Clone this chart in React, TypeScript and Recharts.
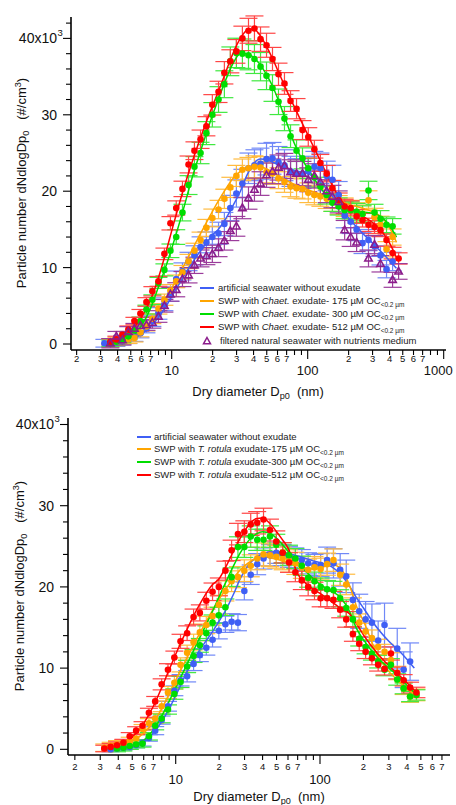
import React from "react";
import { ComposedChart, Scatter, Line, XAxis, YAxis, ErrorBar } from "recharts";

const FONT = "'Liberation Sans', Arial, Helvetica, sans-serif";

// Particle diameters of the measured points (nm)
const diameters = [
  3.2, 3.54, 3.92, 4.34, 4.8, 5.32, 5.89, 6.52, 7.21, 7.99,
  8.84, 9.79, 10.8, 12.0, 13.3, 14.7, 16.3, 18.0, 19.9, 22.1,
  24.4, 27.0, 29.9, 33.1, 36.7, 40.6, 45.0, 49.8, 55.1, 61.0,
  67.5, 74.8, 82.8, 91.6, 101, 112, 124, 138, 152, 169,
  187, 207, 229, 253, 280, 310, 343, 380, 421, 466,
];

// ---- Top panel (Chaet. exudate), values in 10^3 #/cm3 ----
const topBlue = [
  0.1, 0.1, 0.2, 0.4, 0.6, 0.9, 1.4, 2.1, 3.0, 4.0,
  5.2, 6.5, 8.5, 9.5, 10.8, 11.6, 12.7, 13.3, 14.0, 14.5,
  15.7, 17.8, 19.7, 21.0, 23.0, 23.4, 23.6, 24.2, 24.3, 23.8,
  23.4, 22.6, 22.3, 22.3, 22.6, 23.2, 23.0, 22.0, 21.5, 19.5,
  16.8, 16.0, 15.0, 13.2, 13.6, 12.8, 11.6, 9.8, 10.8, null,
];
const topOrange = [
  null, 0.1, 0.3, 0.5, 0.6, 0.8, 1.5, 2.3, 3.3, 4.6,
  5.8, 7.0, 8.2, 9.4, 10.8, 12.2, 13.6, 15.2, 16.5, 17.6,
  19.0, 20.5, 22.0, 22.8, 23.0, 23.2, 23.1, 22.5, 22.3, 21.7,
  21.2, 20.6, 20.4, 20.3, 19.8, 19.5, 19.3, 19.0, 18.6, 18.2,
  17.9, 17.6, 17.3, 17.0, 18.8, 16.6, 15.6, 12.4, 14.0, null,
];
const topGreen = [
  null, 0.1, 0.3, 0.6, 1.0, 1.8, 3.0, 4.5, 5.8, 8.0,
  9.7, 12.2, 14.0, 17.2, 20.8, 23.2, 25.0, 27.6, 30.0, 32.0,
  34.0, 37.0, 38.1, 38.0, 37.8, 37.3, 36.3, 35.1, 33.5, 31.7,
  29.5, 27.2, 25.3, 24.3, 23.0, 21.8, 20.6, 19.5, 18.5, 18.0,
  17.5, 17.5, 17.3, 17.0, 20.1, 17.2, 16.4, 15.6, 15.4, null,
];
const topRed = [
  null, 0.3, 0.6, 1.2, 1.9, 3.0, 4.0, 5.5, 6.9, 8.2,
  11.8, 15.8, 17.8, 20.3, 23.5, 25.3, 26.8, 28.5, 31.3, 33.0,
  35.5, 37.0, 38.3, 40.0, 41.0, 41.3, 39.9, 39.1, 37.3, 35.3,
  34.1, 31.8, 30.8, 28.0, 27.1, 25.5, 23.7, 22.3, 20.4, 18.8,
  18.0, 17.8, 16.7, 16.2, 15.6, 15.3, 14.9, 13.6, 11.9, 11.2,
];
const topPurple = [
  null, 0.1, 1.0, 0.5, 1.6, 2.0, 2.4, 2.5, 2.8, 3.6,
  5.0, 6.5, 7.1, 8.5, 9.0, 10.3, 11.2, 11.5, 11.8, 12.6,
  13.5, 14.8, 15.4, 17.8, 19.1, 20.2, 21.0, 22.1, 22.6, 23.1,
  23.3, 22.5, 22.3, 22.3, 21.5, 22.0, 21.2, 20.0, 19.3, 18.6,
  14.9, 14.0, 13.3, null, 11.2, 13.0, 10.5, null, 8.4, 9.5,
];

// ---- Bottom panel (T. rotula exudate) ----
const botBlue = [
  null, 0.0, 0.1, 0.2, 0.3, 0.5, 0.8, 1.4, 2.3, 3.6,
  5.3, 7.2, 8.5, 9.0, 10.5, 11.6, 12.5, 13.5, 14.6, 15.4,
  15.7, 15.6, 19.5, 21.5, 22.8, 23.5, 23.9, 24.2, 23.9, 23.7,
  23.5, 23.3, 22.9, 22.7, 22.7, 23.3, 22.9, 22.1, 21.3, 18.4,
  17.0, 16.0, 15.6, 13.4, 15.3, null, 12.4, 9.8, 10.8, null,
];
const botBlueErr = [
  0.3, 0.3, 0.3, 0.3, 0.3, 0.3, 0.4, 0.4, 0.5, 0.5,
  0.6, 0.6, 0.7, 0.7, 0.8, 0.8, 0.9, 0.9, 1.0, 1.0,
  1.0, 1.0, 1.1, 1.2, 1.3, 1.3, 1.3, 1.3, 1.3, 1.3,
  1.3, 1.3, 1.3, 1.3, 1.4, 1.6, 1.8, 2.0, 2.0, 2.1,
  2.1, 2.2, 2.3, 2.4, 2.7, 2.5, 2.5, 2.2, 2.3, 2.3,
];
const botOrange = [
  0.2, 0.4, 0.6, 0.7, 1.0, 1.3, 2.5, 3.2, 3.8, 5.3,
  7.0, 8.2, 10.4, 11.9, 13.2, 14.4, 15.3, 16.4, 17.8, 19.5,
  20.7, 21.2, 22.0, 22.6, 23.5, 24.0, 23.9, 23.7, 23.5, 23.2,
  22.9, 22.4, 22.1, 22.4, 22.2, 22.8, 23.3, 21.5, 20.3, 17.5,
  15.6, 14.5, 13.7, 12.6, 12.0, 11.0, 9.4, 7.5, 6.5, 6.7,
];
const botGreen = [
  null, null, 0.1, 0.2, 0.4, 0.6, 0.7, 1.6, 2.9, 3.8,
  4.9, 6.8, 8.3, 10.2, 11.5, 12.8, 14.3, 15.6, 16.5, 17.5,
  21.2, 24.9, 24.9, 26.2, 25.8, 25.8, 26.2, 25.2, 24.2, 23.9,
  23.5, 22.6, 21.1, 20.7, 20.0, 19.7, 19.6, 18.6, 17.4, 16.0,
  13.6, 12.6, 11.8, 10.8, 9.8, 10.4, 8.6, 7.5, 6.5, 6.7,
];
const botRed = [
  0.1, 0.3, 0.5, 0.8, 1.6, 2.3, 2.9, 4.5, 5.9, 8.0,
  9.8, 11.3, 13.3, 14.3, 16.3, 16.8, 18.3, 19.4, 20.0, 22.0,
  24.5, 26.5, 26.8, 27.7, 27.9, 28.3, 27.0, 25.6, 24.2, 23.0,
  21.8, 20.8, 20.0, 19.5, 18.6, 18.6, 18.4, 17.2, 16.0, 14.2,
  13.0, 12.0, 11.2, 10.4, 9.9, 11.8, 9.4, 8.5, 7.6, 7.0,
];

// ---- Fitted curves ----
const fitDiameters = [
  3.3, 4, 5, 6, 7, 8, 9, 10, 12, 14, 16, 18, 20, 22, 25, 28, 32, 36, 40,
  45, 50, 55, 60, 70, 80, 90, 100, 120, 140, 160, 180, 200, 250, 300, 350, 400, 450,
];
const topFitBlue = [
  0.0, 0.2, 0.6, 1.3, 2.3, 3.5, 4.8, 6.2, 8.6, 10.5, 12.0, 13.2, 14.3, 15.0, 16.4, 18.0, 20.0, 22.2, 23.6,
  24.2, 24.1, 23.8, 23.5, 23.0, 22.7, 22.5, 22.3, 21.4, 20.2, 18.8, 17.5, 16.5, 14.6, 13.2, 12.0, 10.9, 9.9,
];
const topFitOrange = [
  0.0, 0.2, 0.6, 1.5, 2.8, 4.4, 5.9, 7.3, 9.9, 12.2, 14.2, 15.9, 17.4, 18.7, 20.3, 21.6, 22.6, 23.1, 23.3,
  23.2, 22.9, 22.5, 22.1, 21.4, 20.9, 20.5, 20.2, 19.7, 19.3, 18.9, 18.6, 18.3, 17.8, 17.3, 16.6, 15.2, 13.3,
];
const topFitGreen = [
  0.0, 0.2, 0.8, 2.4, 4.7, 7.5, 10.0, 12.5, 17.2, 21.5, 24.8, 27.6, 30.0, 32.0, 34.6, 36.6, 38.0, 38.0, 37.5,
  36.5, 35.2, 33.8, 32.2, 29.0, 26.2, 24.3, 23.0, 20.8, 19.3, 18.3, 17.8, 17.5, 17.3, 17.1, 16.6, 15.5, 14.0,
];
const topFitRed = [
  0.1, 0.6, 1.7, 3.5, 5.8, 8.7, 11.8, 14.8, 19.8, 23.6, 26.6, 29.1, 31.2, 33.0, 35.6, 37.9, 40.0, 41.1, 41.2,
  40.3, 38.9, 37.4, 35.9, 33.2, 31.0, 29.1, 27.4, 24.5, 22.0, 20.0, 18.6, 17.8, 16.8, 15.9, 14.8, 13.2, 11.3,
];
const botFitBlue = [
  0.0, 0.1, 0.3, 0.9, 2.0, 3.4, 5.0, 6.6, 9.6, 11.7, 13.2, 14.5, 15.8, 17.0, 19.0, 21.0, 22.7, 23.6, 24.1,
  24.3, 24.3, 24.2, 24.1, 23.8, 23.5, 23.2, 23.0, 22.5, 21.5, 20.1, 18.6, 17.4, 14.9, 13.3, 12.2, 11.1, 10.0,
];
const botFitOrange = [
  0.2, 0.5, 1.0, 2.0, 3.3, 5.0, 6.8, 8.5, 11.3, 13.6, 15.5, 17.1, 18.5, 19.6, 21.0, 22.1, 23.0, 23.5, 23.7,
  23.6, 23.4, 23.2, 23.0, 22.6, 22.3, 22.2, 22.3, 22.8, 22.2, 20.2, 17.5, 15.8, 11.6, 9.6, 8.4, 7.5, 6.8,
];
const botFitGreen = [
  0.0, 0.1, 0.4, 1.1, 2.4, 4.1, 5.9, 7.6, 10.5, 13.0, 15.1, 17.0, 18.8, 20.4, 22.5, 24.2, 25.7, 26.5, 26.8,
  26.6, 26.0, 25.2, 24.4, 23.0, 21.9, 21.0, 20.3, 19.5, 18.6, 17.0, 14.8, 13.5, 11.3, 10.0, 9.0, 7.9, 7.0,
];
const botFitRed = [
  0.1, 0.5, 1.5, 3.2, 5.3, 7.6, 9.8, 11.7, 14.8, 17.2, 19.0, 20.3, 21.0, 22.3, 24.3, 26.0, 27.6, 28.4, 28.5,
  27.8, 26.8, 25.8, 24.8, 21.6, 20.4, 19.7, 19.2, 18.2, 17.3, 16.7, 15.4, 14.1, 11.8, 10.3, 9.2, 8.2, 7.3,
];

// ---- Ticks ----
const xTicksTop = [2, 3, 4, 5, 6, 7, 8, 9, 10, 20, 30, 40, 50, 60, 70, 80, 90, 100, 200, 300, 400, 500, 600, 700, 800, 900, 1000];
const xTicksBottom = [2, 3, 4, 5, 6, 7, 8, 9, 10, 20, 30, 40, 50, 60, 70, 80, 90, 100, 200, 300, 400, 500, 600, 700];
const xMajorTicks = [10, 100, 1000];
const xTickLabels: Record<number, string> = {
  2: "2", 3: "3", 4: "4", 5: "5", 6: "6", 7: "7", 10: "10",
  20: "2", 30: "3", 40: "4", 50: "5", 60: "6", 70: "7", 100: "100",
  200: "2", 300: "3", 400: "4", 500: "5", 600: "6", 700: "7", 1000: "1000",
};
const yTicksTop = [0, 2, 4, 6, 8, 10, 12, 14, 16, 18, 20, 22, 24, 26, 28, 30, 32, 34, 36, 38, 40, 42];
const yTicksBottom = [0, 2, 4, 6, 8, 10, 12, 14, 16, 18, 20, 22, 24, 26, 28, 30, 32, 34, 36, 38, 40];
const yTickLabels: Record<number, string> = { 0: "0", 10: "10", 20: "20", 30: "30", 40: "40x10" };

const COLORS = {
  blue: "#3F5FF5",
  orange: "#FFA500",
  green: "#00DD00",
  red: "#FF0000",
  purple: "#8B1C8B",
};
const ERR_COLORS = {
  blue: "#7088F7",
  orange: "#FFBB40",
  green: "#40E840",
  red: "#FF4545",
  purple: "#9B3C9B",
};

type Pt = { x: number; y: number; e: number };

function buildPoints(vals: (number | null)[], base: number, rel: number, errs?: number[]): Pt[] {
  const out: Pt[] = [];
  vals.forEach((v, i) => {
    if (v != null) out.push({ x: diameters[i], y: v, e: errs ? errs[i] : base + rel * v });
  });
  return out;
}
function buildFit(vals: number[]) {
  return fitDiameters.map((d, i) => ({ x: d, y: vals[i] }));
}

type SeriesCfg = {
  key: string;
  color: string;
  errColor: string;
  points: Pt[];
  fit?: { x: number; y: number }[];
  shape: "circle" | "triangle";
};

const circleShape = (color: string) => (p: any) =>
  p.cx == null ? <g /> : <circle cx={p.cx} cy={p.cy} r={3.3} fill={color} />;
const triShape = (color: string) => (p: any) =>
  p.cx == null ? (
    <g />
  ) : (
    <path
      d={`M${p.cx},${p.cy - 4} L${p.cx + 3.7},${p.cy + 2.6} L${p.cx - 3.7},${p.cy + 2.6} Z`}
      fill="none"
      stroke={color}
      strokeWidth={1.6}
    />
  );

type PanelCfg = {
  height: number;
  margin: { top: number; right: number; left: number; bottom: number };
  yAxisWidth: number;
  xAxisHeight: number;
  xDomain: [number, number];
  yDomain: [number, number];
  xTicks: number[];
  yTicks: number[];
  minorDy: number;
  majorDy: number;
  series: SeriesCfg[];
};

function xTick(side: "bottom" | "top", minorDy: number, majorDy: number) {
  return (props: any) => {
    const { x, y, payload } = props;
    const v = Number(payload.value);
    const major = xMajorTicks.includes(v);
    const len = major ? 9 : 5;
    const dir = side === "bottom" ? 1 : -1;
    const label = xTickLabels[v];
    const atEdge = v === 1000;
    return (
      <g>
        <line x1={x} x2={x} y1={y} y2={y + dir * len} stroke="#000" strokeWidth={1.1} />
        {side === "bottom" && label ? (
          <text
            x={atEdge ? x + 9 : x}
            y={y + (major ? majorDy : minorDy)}
            textAnchor={atEdge ? "end" : "middle"}
            dominantBaseline="central"
            fontFamily={FONT}
            fontSize={major ? 13 : 9.5}
            fill="#111"
          >
            {label}
          </text>
        ) : null}
      </g>
    );
  };
}

function yTick(side: "left" | "right") {
  return (props: any) => {
    const { x, y, payload } = props;
    const v = Number(payload.value);
    const major = v % 10 === 0;
    const len = major ? 8 : 5;
    const dir = side === "left" ? -1 : 1;
    const label = yTickLabels[v];
    return (
      <g>
        <line x1={x} x2={x + dir * len} y1={y} y2={y} stroke="#000" strokeWidth={1.1} />
        {side === "left" && label ? (
          <>
            <text
              x={x - 14}
              y={y}
              textAnchor="end"
              dominantBaseline="central"
              fontFamily={FONT}
              fontSize={14}
              fill="#111"
            >
              {label}
            </text>
            {v === 40 ? (
              <text x={x - 13.5} y={y - 6} textAnchor="start" dominantBaseline="central" fontFamily={FONT} fontSize={9.5} fill="#111">
                3
              </text>
            ) : null}
          </>
        ) : null}
      </g>
    );
  };
}

const axisLineStyle = { stroke: "#000", strokeWidth: 1.6 };

function Panel({ cfg }: { cfg: PanelCfg }) {
  return (
    <ComposedChart width={456} height={cfg.height} margin={cfg.margin}>
      <XAxis
        xAxisId="b"
        dataKey="x"
        type="number"
        scale="log"
        domain={cfg.xDomain}
        allowDataOverflow
        ticks={cfg.xTicks}
        interval={0}
        tickLine={false}
        tickSize={0}
        tickMargin={0}
        height={cfg.xAxisHeight}
        axisLine={axisLineStyle}
        tick={xTick("bottom", cfg.minorDy, cfg.majorDy)}
      />
      <XAxis
        xAxisId="t"
        orientation="top"
        dataKey="x"
        type="number"
        scale="log"
        domain={cfg.xDomain}
        allowDataOverflow
        ticks={cfg.xTicks}
        interval={0}
        tickLine={false}
        tickSize={0}
        tickMargin={0}
        height={0}
        axisLine={axisLineStyle}
        tick={xTick("top", 0, 0)}
      />
      <YAxis
        yAxisId="l"
        dataKey="y"
        type="number"
        domain={cfg.yDomain}
        allowDataOverflow
        ticks={cfg.yTicks}
        interval={0}
        tickLine={false}
        tickSize={0}
        tickMargin={0}
        width={cfg.yAxisWidth}
        axisLine={axisLineStyle}
        tick={yTick("left")}
      />
      <YAxis
        yAxisId="r"
        orientation="right"
        dataKey="y"
        type="number"
        domain={cfg.yDomain}
        allowDataOverflow
        ticks={cfg.yTicks}
        interval={0}
        tickLine={false}
        tickSize={0}
        tickMargin={0}
        width={0}
        axisLine={axisLineStyle}
        tick={yTick("right")}
      />
      {cfg.series.map((s) => (
        <Scatter
          key={s.key + "-pts"}
          name={s.key}
          data={s.points}
          xAxisId="b"
          yAxisId="l"
          dataKey="y"
          isAnimationActive={false}
          shape={s.shape === "circle" ? circleShape(s.color) : triShape(s.color)}
        >
          <ErrorBar
            dataKey="e"
            direction="y"
            width={9}
            stroke={s.errColor}
            strokeWidth={1.2}
            isAnimationActive={false}
          />
        </Scatter>
      ))}
      {cfg.series
        .filter((s) => s.fit)
        .map((s) => (
          <Line
            key={s.key + "-fit"}
            data={s.fit}
            xAxisId="b"
            yAxisId="l"
            dataKey="y"
            type="monotone"
            stroke={s.color}
            strokeWidth={1.5}
            dot={false}
            activeDot={false}
            isAnimationActive={false}
          />
        ))}
    </ComposedChart>
  );
}

const topPanel: PanelCfg = {
  height: 400,
  margin: { top: 17, right: 10, left: 0, bottom: 0 },
  yAxisWidth: 71,
  xAxisHeight: 50,
  xDomain: [1.818, 1040],
  yDomain: [-0.785, 42.8],
  xTicks: xTicksTop,
  yTicks: yTicksTop,
  minorDy: 8,
  majorDy: 20,
  series: [
    { key: "blue", color: COLORS.blue, errColor: ERR_COLORS.blue, points: buildPoints(topBlue, 0.5, 0.065), fit: buildFit(topFitBlue), shape: "circle" },
    { key: "orange", color: COLORS.orange, errColor: ERR_COLORS.orange, points: buildPoints(topOrange, 0.5, 0.04), fit: buildFit(topFitOrange), shape: "circle" },
    { key: "green", color: COLORS.green, errColor: ERR_COLORS.green, points: buildPoints(topGreen, 0.4, 0.04), fit: buildFit(topFitGreen), shape: "circle" },
    { key: "red", color: COLORS.red, errColor: ERR_COLORS.red, points: buildPoints(topRed, 0.4, 0.03), fit: buildFit(topFitRed), shape: "circle" },
    { key: "purple", color: COLORS.purple, errColor: ERR_COLORS.purple, points: buildPoints(topPurple, 0.6, 0.045), shape: "triangle" },
  ],
};

const bottomPanel: PanelCfg = {
  height: 405,
  margin: { top: 18, right: 6, left: 0, bottom: 0 },
  yAxisWidth: 68,
  xAxisHeight: 50,
  xDomain: [1.793, 796],
  yDomain: [-0.7, 40.8],
  xTicks: xTicksBottom,
  yTicks: yTicksBottom,
  minorDy: 11,
  majorDy: 24,
  series: [
    { key: "blue", color: COLORS.blue, errColor: ERR_COLORS.blue, points: buildPoints(botBlue, 0, 0, botBlueErr), fit: buildFit(botFitBlue), shape: "circle" },
    { key: "orange", color: COLORS.orange, errColor: ERR_COLORS.orange, points: buildPoints(botOrange, 0.45, 0.04), fit: buildFit(botFitOrange), shape: "circle" },
    { key: "green", color: COLORS.green, errColor: ERR_COLORS.green, points: buildPoints(botGreen, 0.4, 0.035), fit: buildFit(botFitGreen), shape: "circle" },
    { key: "red", color: COLORS.red, errColor: ERR_COLORS.red, points: buildPoints(botRed, 0.4, 0.035), fit: buildFit(botFitRed), shape: "circle" },
  ],
};

const subStyle: React.CSSProperties = { fontSize: "0.7em", verticalAlign: "-0.3em", lineHeight: 0 };
const supStyle: React.CSSProperties = { fontSize: "0.7em", verticalAlign: "0.5em", lineHeight: 0 };
const legSub: React.CSSProperties = { fontSize: 6.5, verticalAlign: "-3px", lineHeight: 0 };

function YTitle({ x, y }: { x: number; y: number }) {
  return (
    <div
      style={{
        position: "absolute",
        left: x,
        top: y,
        transform: "translate(-50%, -50%) rotate(-90deg)",
        whiteSpace: "pre",
        fontFamily: FONT,
        fontSize: 13,
        lineHeight: "16px",
        color: "#111",
      }}
    >
      Particle number dNdlogDp<span style={subStyle}>0</span>{"   "}(#/cm<span style={supStyle}>3</span>)
    </div>
  );
}

function XTitle({ x, y }: { x: number; y: number }) {
  return (
    <div
      style={{
        position: "absolute",
        left: x,
        top: y,
        transform: "translate(-50%, -50%)",
        whiteSpace: "pre",
        fontFamily: FONT,
        fontSize: 13,
        lineHeight: "16px",
        color: "#111",
      }}
    >
      Dry diameter D<span style={subStyle}>p0</span>{"  "}(nm)
    </div>
  );
}

function LegendItem({
  lineX,
  textX,
  y,
  color,
  marker,
  children,
}: {
  lineX: number;
  textX: number;
  y: number;
  color: string;
  marker: "line" | "triangle";
  children: React.ReactNode;
}) {
  return (
    <>
      {marker === "line" ? (
        <div style={{ position: "absolute", left: lineX, top: Math.round(y) - 1, width: 14, height: 2, background: color }} />
      ) : (
        <svg style={{ position: "absolute", left: lineX + 1, top: Math.round(y) - 5 }} width={12} height={10}>
          <path d="M6,1.5 L9.5,7.8 L2.5,7.8 Z" fill="none" stroke={color} strokeWidth={1.5} />
        </svg>
      )}
      <div
        style={{
          position: "absolute",
          left: textX,
          top: Math.round(y) - 6,
          fontFamily: FONT,
          fontSize: 9.5,
          lineHeight: "12px",
          whiteSpace: "pre",
          color: "#222",
        }}
      >
        {children}
      </div>
    </>
  );
}

const topLegendRows = [288, 301, 314, 327, 341];
const botLegendRows = [437, 449, 462, 475];

export default function App() {
  return (
    <div style={{ position: "absolute", left: 0, top: 0, width: 456, height: 805, background: "#fff" }}>
      <div style={{ position: "absolute", left: 0, top: 0 }}>
        <Panel cfg={topPanel} />
      </div>
      <div style={{ position: "absolute", left: 0, top: 400 }}>
        <Panel cfg={bottomPanel} />
      </div>

      <YTitle x={22} y={183} />
      <XTitle x={258} y={392} />
      <YTitle x={20} y={586} />
      <XTitle x={259} y={797} />

      <LegendItem lineX={200} textX={218} y={topLegendRows[0]} color={COLORS.blue} marker="line">
        artificial seawater without exudate
      </LegendItem>
      <LegendItem lineX={200} textX={218} y={topLegendRows[1]} color={COLORS.orange} marker="line">
        SWP with <i>Chaet.</i> exudate- 175 µM OC<span style={legSub}>&lt;0.2 µm</span>
      </LegendItem>
      <LegendItem lineX={200} textX={218} y={topLegendRows[2]} color={COLORS.green} marker="line">
        SWP with <i>Chaet.</i> exudate- 300 µM OC<span style={legSub}>&lt;0.2 µm</span>
      </LegendItem>
      <LegendItem lineX={200} textX={218} y={topLegendRows[3]} color={COLORS.red} marker="line">
        SWP with <i>Chaet.</i> exudate- 512 µM OC<span style={legSub}>&lt;0.2 µm</span>
      </LegendItem>
      <LegendItem lineX={200} textX={220} y={topLegendRows[4]} color={COLORS.purple} marker="triangle">
        filtered natural seawater with nutrients medium
      </LegendItem>

      <LegendItem lineX={137} textX={154} y={botLegendRows[0]} color={COLORS.blue} marker="line">
        artificial seawater without exudate
      </LegendItem>
      <LegendItem lineX={137} textX={154} y={botLegendRows[1]} color={COLORS.orange} marker="line">
        SWP with <i>T. rotula</i> exudate-175 µM OC<span style={legSub}>&lt;0.2 µm</span>
      </LegendItem>
      <LegendItem lineX={137} textX={154} y={botLegendRows[2]} color={COLORS.green} marker="line">
        SWP with <i>T. rotula</i> exudate-300 µM OC<span style={legSub}>&lt;0.2 µm</span>
      </LegendItem>
      <LegendItem lineX={137} textX={154} y={botLegendRows[3]} color={COLORS.red} marker="line">
        SWP with <i>T. rotula</i> exudate-512 µM OC<span style={legSub}>&lt;0.2 µm</span>
      </LegendItem>
    </div>
  );
}
